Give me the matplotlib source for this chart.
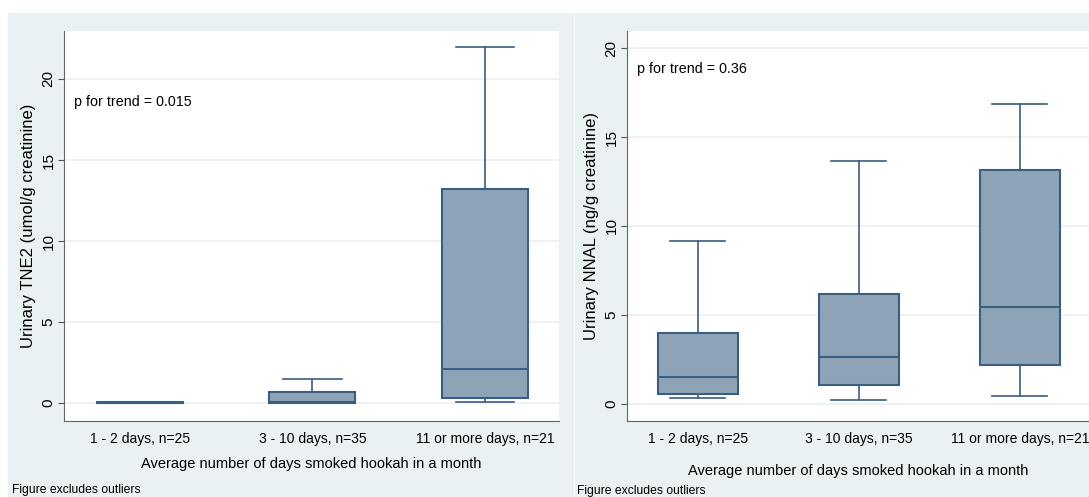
import matplotlib.pyplot as plt
import matplotlib.patches as patches

plt.rcParams['font.family'] = ['Liberation Sans Narrow', 'Liberation Sans', 'DejaVu Sans']

categories = ["1 - 2 days, n=25", "3 - 10 days, n=35", "11 or more days, n=21"]

# left panel: urinary TNE2
tne2_whislo = [0.0, 0.0, 0.06]
tne2_q1 = [0.01, 0.02, 0.3]
tne2_med = [0.03, 0.08, 2.1]
tne2_q3 = [0.05, 0.68, 13.2]
tne2_whishi = [0.06, 1.48, 22.0]

# right panel: urinary NNAL
nnal_whislo = [0.32, 0.2, 0.43]
nnal_q1 = [0.58, 1.05, 2.17]
nnal_med = [1.52, 2.66, 5.45]
nnal_q3 = [4.0, 6.2, 13.15]
nnal_whishi = [9.15, 13.68, 16.85]

W, H = 1089, 497
bg = "#eaf1f3"
fill = "#8ea3b6"
edge = "#3a5e82"

fig = plt.figure(figsize=(W / 100, H / 100), dpi=100)
fig.patches.append(patches.Rectangle((8 / W, 0), (573 - 8) / W, (H - 13) / H,
                                     transform=fig.transFigure, color=bg, zorder=-5))
fig.patches.append(patches.Rectangle((575 / W, 0), (W - 575) / W, (H - 13) / H,
                                     transform=fig.transFigure, color=bg, zorder=-5))


def panel(rect, lo, q1, med, q3, hi, ylim, ylabel, ptext, ptext_y):
    ax = fig.add_axes(rect)
    stats = []
    for i in range(len(categories)):
        stats.append(dict(whislo=lo[i], q1=q1[i], med=med[i], q3=q3[i], whishi=hi[i], fliers=[]))
    ax.bxp(stats, positions=[1, 2, 3], widths=0.5, patch_artist=True, showfliers=False,
           boxprops=dict(facecolor=fill, edgecolor=edge, linewidth=1.5),
           medianprops=dict(color=edge, linewidth=1.5),
           whiskerprops=dict(color=edge, linewidth=1.2),
           capprops=dict(color=edge, linewidth=1.2), capwidths=0.34)
    ax.set_xlim(0.56, 3.43)
    ax.set_ylim(*ylim)
    ax.set_yticks([0, 5, 10, 15, 20])
    ax.set_yticklabels(["0", "5", "10", "15", "20"], rotation=90, va="center")
    ax.set_xticks([1, 2, 3])
    ax.set_xticklabels(categories, fontsize=10)
    ax.tick_params(axis="x", length=0, pad=8)
    ax.tick_params(axis="y", length=4, color="#555555", labelsize=11, pad=2)
    ax.yaxis.grid(True, color=bg, linewidth=1.2)
    ax.set_axisbelow(True)
    for s in ["top", "right"]:
        ax.spines[s].set_visible(False)
    ax.spines["left"].set_color("#666666")
    ax.spines["bottom"].set_color("#666666")
    ax.set_ylabel(ylabel, fontsize=12, labelpad=4)
    ax.text(0.62, ptext_y, ptext, fontsize=10.3, va="center")
    return ax


ax1 = panel([64 / W, 76 / H, (559 - 64) / W, 390 / H],
            tne2_whislo, tne2_q1, tne2_med, tne2_q3, tne2_whishi,
            (-1.1, 22.96), "Urinary TNE2 (umol/g creatinine)", "p for trend = 0.015", 18.6)
ax1.set_xlabel("Average number of days smoked hookah in a month", fontsize=10.5, labelpad=8)

ax2 = panel([627 / W, 76 / H, (W - 627) / W, 390 / H],
            nnal_whislo, nnal_q1, nnal_med, nnal_q3, nnal_whishi,
            (-0.96, 20.96), "Urinary NNAL (ng/g creatinine)", "p for trend = 0.36", 18.8)
ax2.set_xlabel("Average number of days smoked hookah in a month", fontsize=10.5, labelpad=13)

fig.text(12 / W, 1 - 490 / H, "Figure excludes outliers", fontsize=8.7, va="center")
fig.text(577 / W, 1 - 491 / H, "Figure excludes outliers", fontsize=8.7, va="center")

fig.savefig("out.png", dpi=100)
